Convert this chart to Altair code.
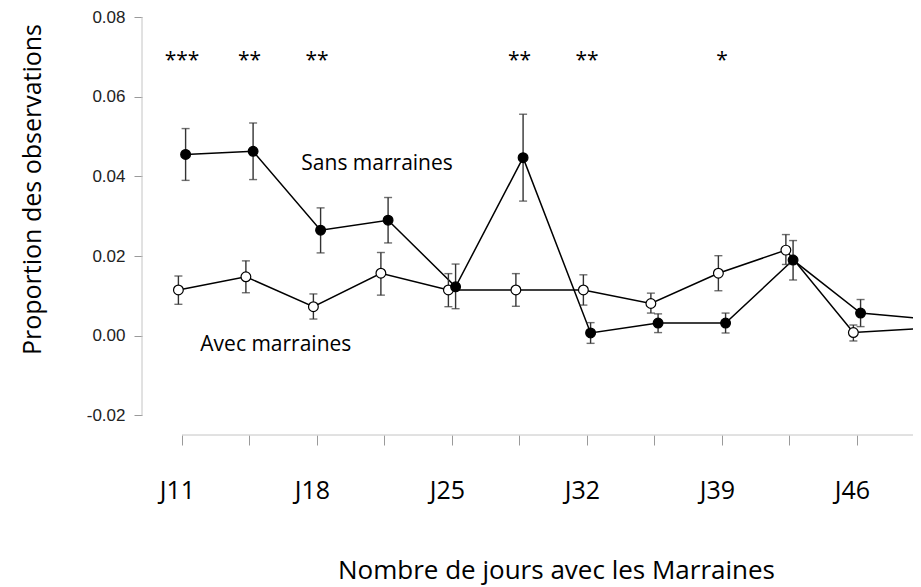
import altair as alt
import pandas as pd

# ---- data ----
day_index = list(range(12))
tick_labels = ["J11", "", "J18", "", "J25", "", "J32", "", "J39", "", "J46", ""]

avec_mean = [0.0115, 0.0148, 0.0073, 0.0157, 0.0115, 0.0115, 0.0115, 0.0081, 0.0157, 0.0215, 0.0008, 0.0018]
avec_lo = [0.0079, 0.0108, 0.0042, 0.0102, 0.0073, 0.0074, 0.0077, 0.0057, 0.0113, 0.0179, -0.0013, -0.0004]
avec_hi = [0.0150, 0.0188, 0.0105, 0.0209, 0.0156, 0.0156, 0.0153, 0.0107, 0.0201, 0.0254, 0.0027, 0.0040]

sans_mean = [0.0455, 0.0463, 0.0265, 0.0290, 0.0123, 0.0447, 0.0007, 0.0032, 0.0032, 0.0190, 0.0057, 0.0042]
sans_lo = [0.0390, 0.0392, 0.0208, 0.0233, 0.0068, 0.0338, -0.0019, 0.0008, 0.0007, 0.0140, 0.0023, 0.0020]
sans_hi = [0.0520, 0.0534, 0.0321, 0.0347, 0.0180, 0.0556, 0.0033, 0.0055, 0.0057, 0.0239, 0.0091, 0.0065]

star_index = [0, 1, 2, 5, 6, 8]
star_text = ["***", "**", "**", "**", "**", "*"]

label_sans = "Sans marraines"
label_avec = "Avec marraines"
label_sans_pos = (2.89, 0.0430)
label_avec_pos = (1.39, -0.0024)
star_level = 0.0700

x_domain = [-0.5926, 10.83]
y_domain = [-0.0249, 0.08]
y_ticks = [-0.02, 0.0, 0.02, 0.04, 0.06, 0.08]

avec = pd.DataFrame({"idx": day_index, "mean": avec_mean, "lo": avec_lo, "hi": avec_hi})
sans = pd.DataFrame({"idx": day_index, "mean": sans_mean, "lo": sans_lo, "hi": sans_hi})
stars = pd.DataFrame({"idx": star_index, "txt": star_text})
one = pd.DataFrame({"k": [0]})

W, H = 771, 418
LBL = "[" + ",".join("'%s'" % t for t in tick_labels) + "]"

x_axis = alt.Axis(
    values=list(range(11)), labelExpr=LBL + "[datum.value]", domain=False, grid=False,
    tickSize=10, tickColor="#9a9a9a", tickWidth=1,
    labelFont="Open Sans", labelFontSize=25, labelColor="#000", labelBaseline="middle",
    labelPadding=45, labelOffset=-5, labelOverlap=False, labelFlush=False,
    title="Nombre de jours avec les Marraines", titleFont="Open Sans", titleFontSize=26,
    titleFontWeight="normal", titleColor="#000", titleX=414, titleY=135,
    titleAlign="center", titleBaseline="middle", titleAnchor="start",
)
y_axis = alt.Axis(
    values=y_ticks, domain=False, grid=False,
    labelExpr="datum.value < 0 ? '-' + format(-datum.value, '.2f') : format(datum.value, '.2f')",
    tickSize=8, tickColor="#9a9a9a", tickWidth=1,
    labelFont="Liberation Sans", labelFontSize=17, labelColor="#222", labelPadding=9,
    title="Proportion des observations", titleFont="Open Sans", titleFontSize=25,
    titleFontWeight="normal", titleColor="#000", titleX=-110, titleY=172,
    titleAlign="center", titleBaseline="middle", titleAngle=270, titleAnchor="start",
)

xs = alt.Scale(domain=x_domain, nice=False, zero=False)
ys = alt.Scale(domain=y_domain, nice=False, zero=False)

DX = 3.6


def series_layers(df, off, fill):
    b = alt.Chart(df)
    line = b.mark_line(color="#000", strokeWidth=1.5, xOffset=off, clip=True).encode(
        x=alt.X("idx:Q", scale=xs, axis=x_axis), y=alt.Y("mean:Q", scale=ys, axis=y_axis))
    bar = b.mark_rule(color="#333", strokeWidth=1.4, xOffset=off, clip=True).encode(
        x="idx:Q", y="lo:Q", y2="hi:Q")
    cap_lo = b.mark_tick(color="#333", orient="horizontal", size=8, thickness=1.4, xOffset=off, clip=True).encode(
        x="idx:Q", y="lo:Q")
    cap_hi = b.mark_tick(color="#333", orient="horizontal", size=8, thickness=1.4, xOffset=off, clip=True).encode(
        x="idx:Q", y="hi:Q")
    pts = b.mark_point(shape="circle", filled=False, fill=fill, fillOpacity=1, stroke="#000",
                       strokeWidth=1.2, size=95, opacity=1, xOffset=off, clip=True).encode(
        x="idx:Q", y="mean:Q")
    return line, [bar, cap_lo, cap_hi], pts


a_line, a_err, a_pts = series_layers(avec, -DX, "#ffffff")
s_line, s_err, s_pts = series_layers(sans, DX, "#000000")

y_line = alt.Chart(one).mark_rule(color="#c4c4c4", strokeWidth=1).encode(
    x=alt.value(0), y=alt.datum(y_ticks[0]), y2=alt.datum(y_ticks[-1]))
x_line = alt.Chart(one).mark_rule(color="#c4c4c4", strokeWidth=1).encode(
    x=alt.datum(0), x2=alt.value(W), y=alt.datum(y_domain[0]))

star_marks = alt.Chart(stars).mark_text(font="Open Sans", fontSize=21, color="#000",
                                        baseline="middle", dy=4).encode(
    x="idx:Q", y=alt.datum(star_level), text="txt:N")

txt_sans = alt.Chart(one).mark_text(font="Open Sans", fontSize=21, color="#000", baseline="middle",
                                    text=label_sans).encode(
    x=alt.datum(label_sans_pos[0]), y=alt.datum(label_sans_pos[1]))
txt_avec = alt.Chart(one).mark_text(font="Open Sans", fontSize=21, color="#000", baseline="middle",
                                    text=label_avec).encode(
    x=alt.datum(label_avec_pos[0]), y=alt.datum(label_avec_pos[1]))

chart = alt.layer(
    a_line, s_line, *a_err, *s_err, a_pts, s_pts,
    y_line, x_line, star_marks, txt_sans, txt_avec,
).properties(
    width=W, height=H,
    autosize=alt.AutoSizeParams(type="none"),
    padding={"left": 134, "top": 9, "right": 0, "bottom": 152},
    background="white",
).configure_view(stroke=None)

chart.save("out.html", embed_options={"renderer": "svg", "actions": False})
